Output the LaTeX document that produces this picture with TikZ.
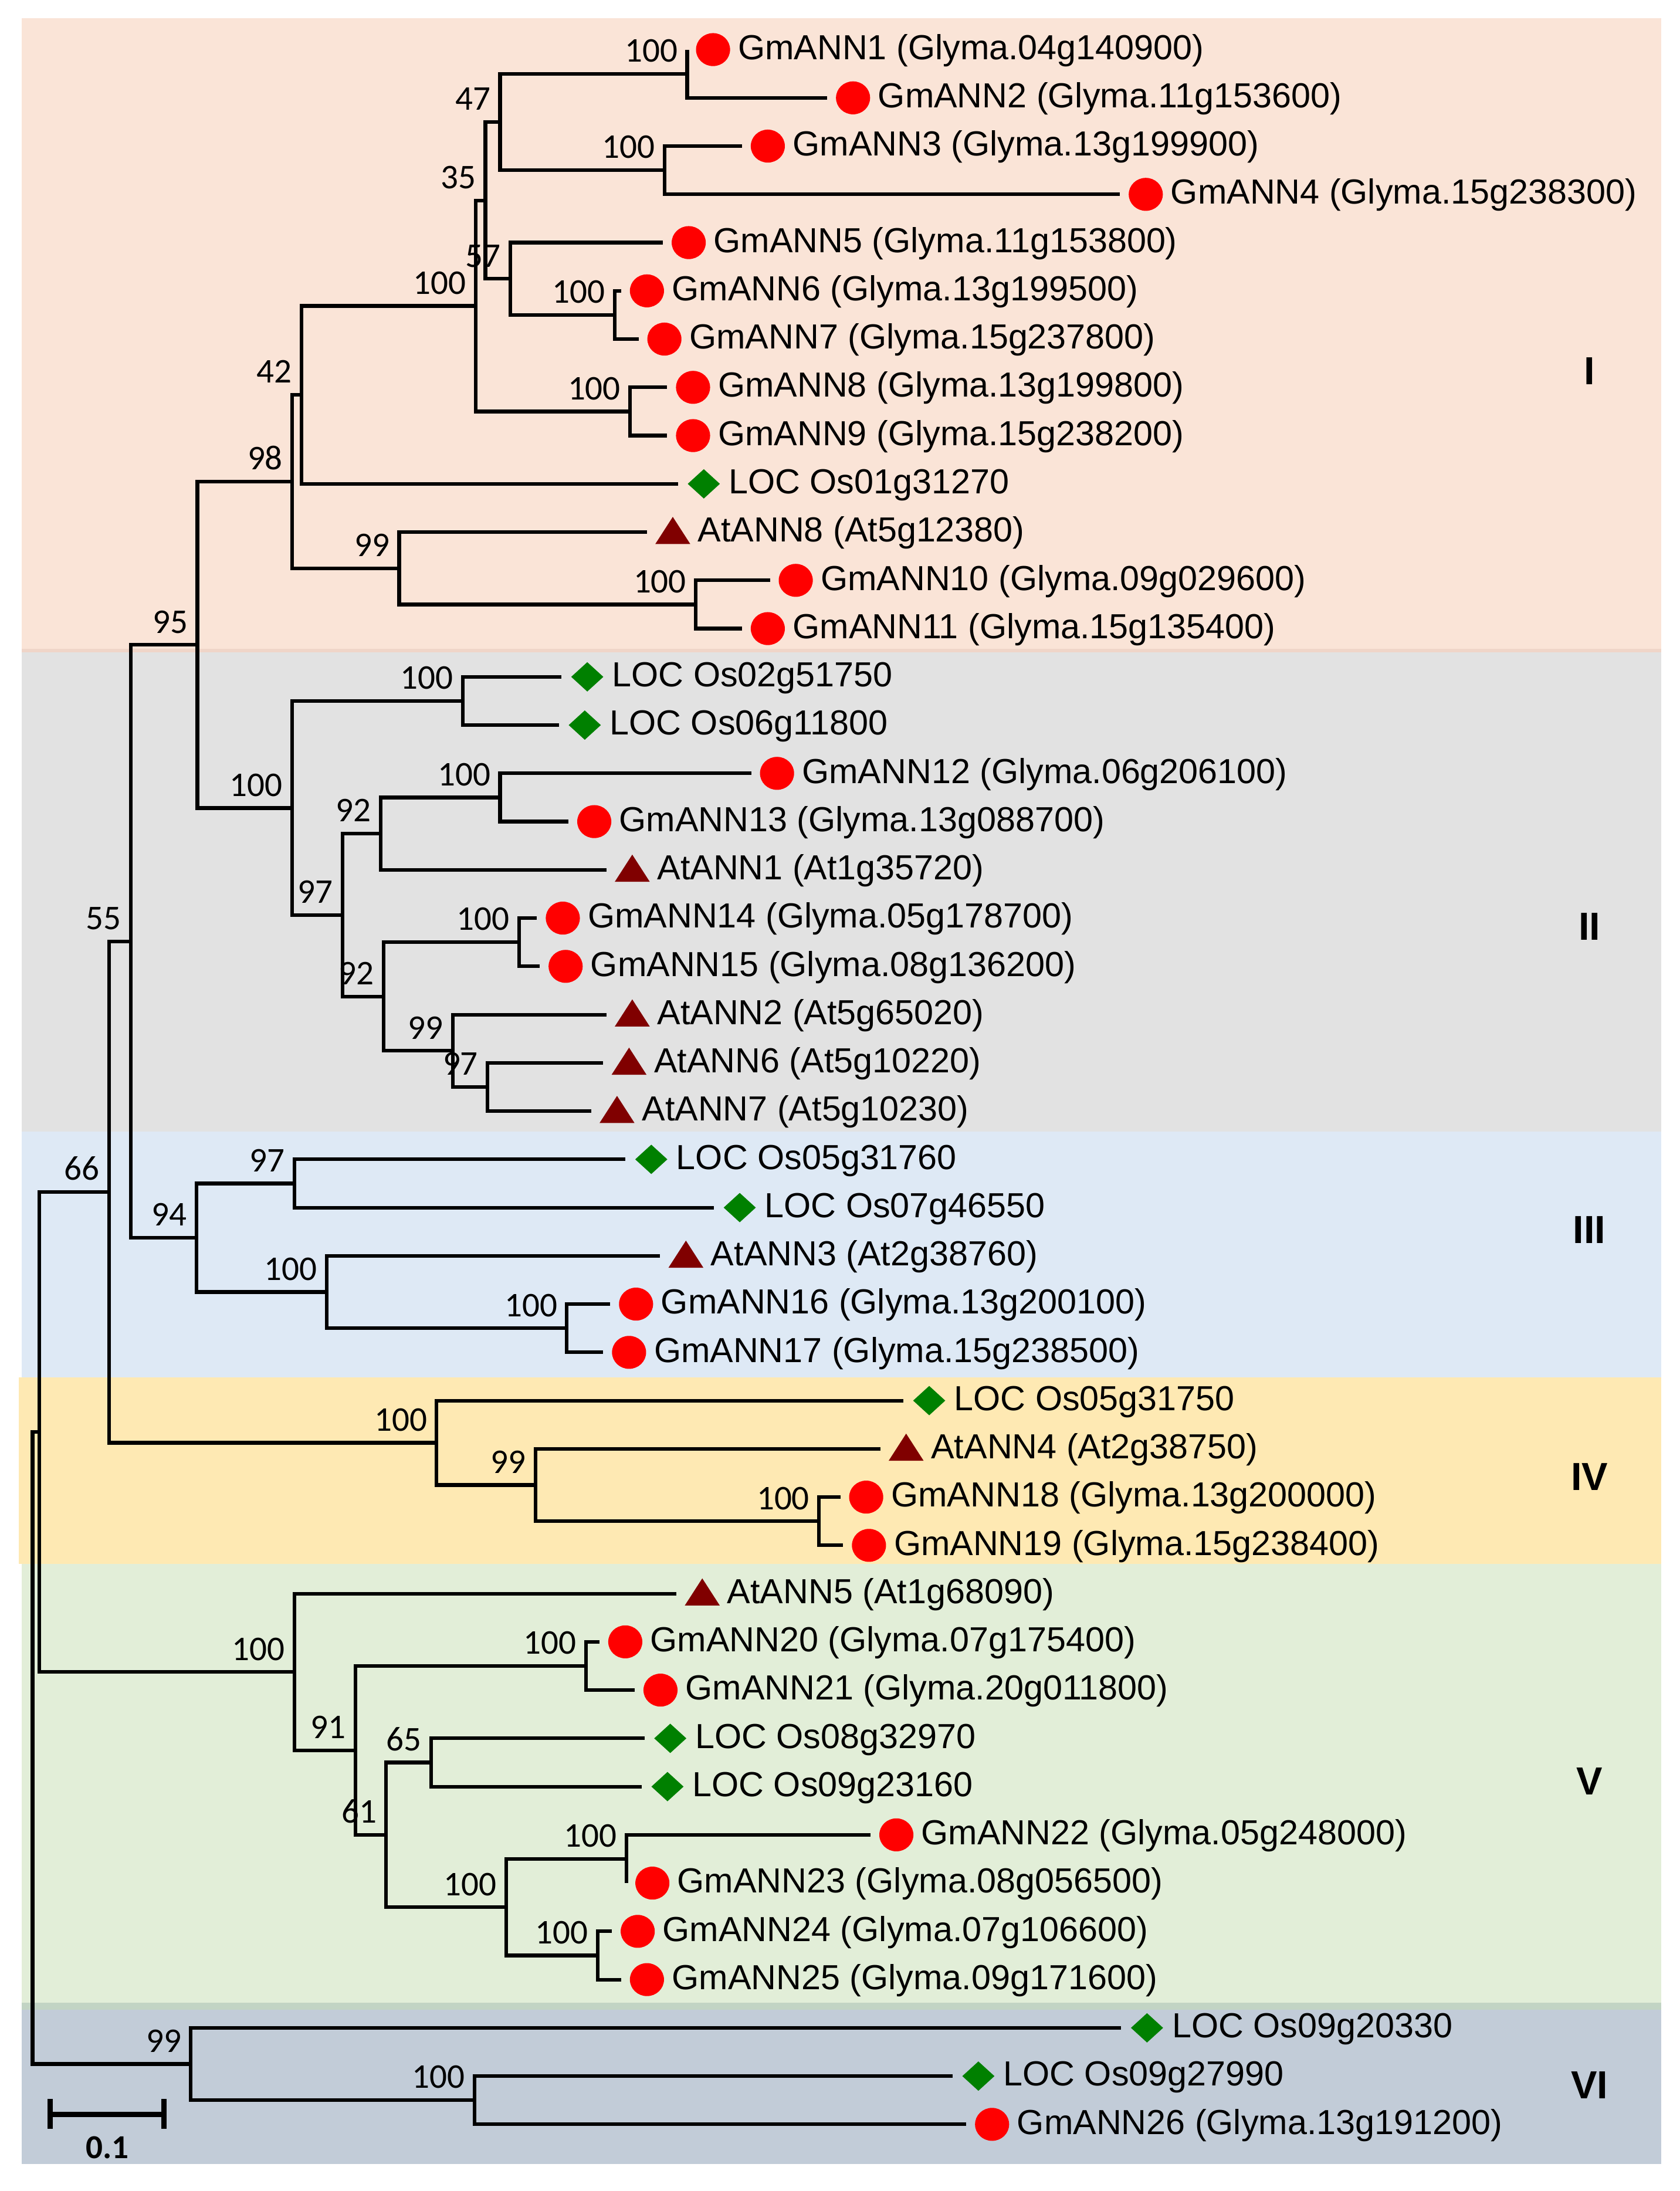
\documentclass[tikz,border=0pt]{standalone}
\usepackage{fontspec}
\setmainfont{Liberation Sans}
\newfontfamily\bsfont{Carlito}
\usetikzlibrary{calc}
\definecolor{cI}{HTML}{FAE4D7}
\definecolor{cIs}{HTML}{EFD5C8}
\definecolor{cII}{HTML}{E2E2E2}
\definecolor{cIII}{HTML}{DEE9F5}
\definecolor{cIV}{HTML}{FEE9B3}
\definecolor{cV}{HTML}{E2EED8}
\definecolor{cVs}{HTML}{C2D4C4}
\definecolor{cVI}{HTML}{C2CCD8}
\definecolor{gmred}{HTML}{FF0000}
\definecolor{osgreen}{HTML}{008000}
\definecolor{atred}{HTML}{800000}
\newcommand\symgm[1]{\fill[gmred] (#1) ellipse [x radius=12.2, y radius=11.8];}
\newcommand\symos[1]{\fill[osgreen] (#1) ++(-11.5,0) -- ++(11.5,-10.5) -- ++(11.5,10.5) -- ++(-11.5,10.5) -- cycle;}
\newcommand\symat[1]{\fill[atred] (#1) ++(-12.5,8.5) -- ++(25,0) -- ++(-12.5,-19.4) -- cycle;}
% #1 name, #2 y, #3 branch end x, #4 type, #5 text
\newcommand\leaf[5]{%
  \coordinate (#1) at (#3,#2);
  \coordinate (#1s) at (#3+18.5,#2);
  \csname sym#4\endcsname{#1s}
  \node[lab] (#1t) at (#3+36,#2+7) {#5};
}
\newcommand\inode[3]{\coordinate (#1) at (#2,#3);}
\newcommand\bsv[2]{\node[bs] (bs#1) at ($(#1)+(-6.5,-8.5)$) {#2};}
\newcommand\kids[3]{\draw[br] (#1) |- (#2); \draw[br] (#1) |- (#3);}
\begin{document}
\begin{tikzpicture}[x=0.5pt,y=-0.5pt,
  br/.style={line width=1.3pt, line join=miter},
  lab/.style={anchor=base west, inner sep=0pt, font=\fontsize{12.45pt}{14pt}\selectfont},
  bs/.style={anchor=base east, inner sep=0pt, font=\bsfont\fontsize{12.4pt}{14pt}\selectfont},
  cl/.style={anchor=center, inner sep=0pt, font=\bfseries\fontsize{14pt}{16pt}\selectfont}]
\fill[white] (0,0) rectangle (1202,1568);
\useasboundingbox (0,0) rectangle (1202,1568);
% clade bands
\fill[cI]   (15.5,13)    rectangle (1189,466.7);
\fill[cII]  (15.5,466.7) rectangle (1189,810);
\fill[cIs]  (15.5,464.3) rectangle (1189,466.7);
\fill[cIII] (15.5,810)   rectangle (1189,985.9);
\fill[cIV]  (13.4,985.9) rectangle (1189,1119.1);
\fill[cV]   (15.5,1119.1) rectangle (1189,1433.3);
\fill[cVI]  (15.5,1438.1) rectangle (1189,1548.6);
\fill[cVs]  (15.5,1433.3) rectangle (1189,1438.1);
% leaves
\leaf{l0}{35.5}{491.8}{gm}{GmANN1 (Glyma.04g140900)}
\leaf{l1}{70.03}{592}{gm}{GmANN2 (Glyma.11g153600)}
\leaf{l2}{104.56}{531}{gm}{GmANN3 (Glyma.13g199900)}
\leaf{l3}{139.09}{801.5}{gm}{GmANN4 (Glyma.15g238300)}
\leaf{l4}{173.62}{474.4}{gm}{GmANN5 (Glyma.11g153800)}
\leaf{l5}{208.15}{444.5}{gm}{GmANN6 (Glyma.13g199500)}
\leaf{l6}{242.68}{457}{gm}{GmANN7 (Glyma.15g237800)}
\leaf{l7}{277.21}{477.5}{gm}{GmANN8 (Glyma.13g199800)}
\leaf{l8}{311.74}{477.5}{gm}{GmANN9 (Glyma.15g238200)}
\leaf{l9}{346.27}{485.2}{os}{LOC Os01g31270}
\leaf{l10}{380.8}{463}{at}{AtANN8 (At5g12380)}
\leaf{l11}{415.33}{551}{gm}{GmANN10 (Glyma.09g029600)}
\leaf{l12}{449.86}{531}{gm}{GmANN11 (Glyma.15g135400)}
\leaf{l13}{484.39}{401.8}{os}{LOC Os02g51750}
\leaf{l14}{518.92}{400}{os}{LOC Os06g11800}
\leaf{l15}{553.45}{537.6}{gm}{GmANN12 (Glyma.06g206100)}
\leaf{l16}{587.98}{406.8}{gm}{GmANN13 (Glyma.13g088700)}
\leaf{l17}{622.51}{434}{at}{AtANN1 (At1g35720)}
\leaf{l18}{657.04}{384.3}{gm}{GmANN14 (Glyma.05g178700)}
\leaf{l19}{691.57}{386.3}{gm}{GmANN15 (Glyma.08g136200)}
\leaf{l20}{726.1}{434}{at}{AtANN2 (At5g65020)}
\leaf{l21}{760.63}{431.7}{at}{AtANN6 (At5g10220)}
\leaf{l22}{795.16}{423.1}{at}{AtANN7 (At5g10230)}
\leaf{l23}{829.69}{447.6}{os}{LOC Os05g31760}
\leaf{l24}{864.22}{510.9}{os}{LOC Os07g46550}
\leaf{l25}{898.75}{472.4}{at}{AtANN3 (At2g38760)}
\leaf{l26}{933.28}{436.7}{gm}{GmANN16 (Glyma.13g200100)}
\leaf{l27}{967.81}{431.7}{gm}{GmANN17 (Glyma.15g238500)}
\leaf{l28}{1002.34}{646.5}{os}{LOC Os05g31750}
\leaf{l29}{1036.87}{630}{at}{AtANN4 (At2g38750)}
\leaf{l30}{1071.4}{601.4}{gm}{GmANN18 (Glyma.13g200000)}
\leaf{l31}{1105.93}{603.4}{gm}{GmANN19 (Glyma.15g238400)}
\leaf{l32}{1140.46}{484.1}{at}{AtANN5 (At1g68090)}
\leaf{l33}{1174.99}{429}{gm}{GmANN20 (Glyma.07g175400)}
\leaf{l34}{1209.52}{454.2}{gm}{GmANN21 (Glyma.20g011800)}
\leaf{l35}{1244.05}{461.2}{os}{LOC Os08g32970}
\leaf{l36}{1278.58}{459.2}{os}{LOC Os09g23160}
\leaf{l37}{1313.11}{623}{gm}{GmANN22 (Glyma.05g248000)}
\leaf{l38}{1347.64}{448.4}{gm}{GmANN23 (Glyma.08g056500)}
\leaf{l39}{1382.17}{437.9}{gm}{GmANN24 (Glyma.07g106600)}
\leaf{l40}{1416.7}{444.5}{gm}{GmANN25 (Glyma.09g171600)}
\leaf{l41}{1451.23}{802.4}{os}{LOC Os09g20330}
\leaf{l42}{1485.76}{681.7}{os}{LOC Os09g27990}
\leaf{l43}{1520.29}{691.5}{gm}{GmANN26 (Glyma.13g191200)}
% internal nodes
\inode{a1}{491.8}{52.77}
\inode{a2}{475.5}{121.83}
\inode{a3}{357.9}{87.3}
\inode{a4}{439.8}{225.42}
\inode{a5}{365.3}{199.52}
\inode{a6}{347.4}{143.41}
\inode{a7}{451}{294.48}
\inode{a8}{340.4}{218.94}
\inode{a9}{215.8}{282.6}
\inode{a10}{498}{432.6}
\inode{a11}{285.7}{406.7}
\inode{a12}{209.2}{344.65}
\inode{b1}{331.1}{501.66}
\inode{b2}{357.9}{570.72}
\inode{b3}{272.5}{596.6}
\inode{b4}{371.5}{674.3}
\inode{b5}{349}{777.9}
\inode{b6}{324.1}{752.0}
\inode{b7}{274.5}{713.15}
\inode{b8}{245}{654.9}
\inode{b9}{208.9}{578.3}
\inode{c0}{141.3}{461.5}
\inode{c1}{210.8}{846.96}
\inode{c2}{405.7}{950.55}
\inode{c3}{233.7}{924.65}
\inode{c4}{140.5}{885.8}
\inode{c5}{93.6}{673.65}
\inode{d1}{586.2}{1088.67}
\inode{d2}{383.2}{1062.77}
\inode{d3}{312.5}{1032.55}
\inode{d4}{78}{853.1}
\inode{e1}{419.3}{1192.26}
\inode{e2}{308.6}{1261.3}
\inode{e3}{448.4}{1330.38}
\inode{e4}{427.8}{1399.44}
\inode{e5}{362.2}{1364.9}
\inode{e6}{276.4}{1313.1}
\inode{e7}{254.3}{1252.7}
\inode{e8}{210.8}{1196.6}
\inode{f0}{28}{1024.85}
\inode{g1}{339.7}{1503.0}
\inode{g2}{136.6}{1477.1}
\inode{rt}{23.3}{1251}
% branches
\kids{a1}{l0}{l1}
\kids{a2}{l2}{l3}
\kids{a3}{a1}{a2}
\kids{a4}{l5}{l6}
\kids{a5}{l4}{a4}
\kids{a6}{a3}{a5}
\kids{a7}{l7}{l8}
\kids{a8}{a6}{a7}
\kids{a9}{a8}{l9}
\kids{a10}{l11}{l12}
\kids{a11}{l10}{a10}
\kids{a12}{a9}{a11}
\kids{b1}{l13}{l14}
\kids{b2}{l15}{l16}
\kids{b3}{b2}{l17}
\kids{b4}{l18}{l19}
\kids{b5}{l21}{l22}
\kids{b6}{l20}{b5}
\kids{b7}{b4}{b6}
\kids{b8}{b3}{b7}
\kids{b9}{b1}{b8}
\kids{c0}{a12}{b9}
\kids{c1}{l23}{l24}
\kids{c2}{l26}{l27}
\kids{c3}{l25}{c2}
\kids{c4}{c1}{c3}
\kids{c5}{c0}{c4}
\kids{d1}{l30}{l31}
\kids{d2}{l29}{d1}
\kids{d3}{l28}{d2}
\kids{d4}{c5}{d3}
\kids{e1}{l33}{l34}
\kids{e2}{l35}{l36}
\kids{e3}{l37}{l38}
\kids{e4}{l39}{l40}
\kids{e5}{e3}{e4}
\kids{e6}{e2}{e5}
\kids{e7}{e1}{e6}
\kids{e8}{l32}{e7}
\kids{f0}{d4}{e8}
\kids{g1}{l42}{l43}
\kids{g2}{l41}{g1}
\kids{rt}{f0}{g2}
% bootstrap values
\bsv{a1}{100}\bsv{a2}{100}\bsv{a3}{47}\bsv{a4}{100}\bsv{a5}{57}\bsv{a6}{35}
\bsv{a7}{100}\bsv{a8}{100}\bsv{a9}{42}\bsv{a10}{100}\bsv{a11}{99}\bsv{a12}{98}
\bsv{b1}{100}\bsv{b2}{100}\bsv{b3}{92}\bsv{b4}{100}\bsv{b5}{97}\bsv{b6}{99}
\bsv{b7}{92}\bsv{b8}{97}\bsv{b9}{100}\bsv{c0}{95}
\bsv{c1}{97}\bsv{c2}{100}\bsv{c3}{100}\bsv{c4}{94}\bsv{c5}{55}
\bsv{d1}{100}\bsv{d2}{99}\bsv{d3}{100}\bsv{d4}{66}
\bsv{e1}{100}\bsv{e2}{65}\bsv{e3}{100}\bsv{e4}{100}\bsv{e5}{100}\bsv{e6}{61}
\bsv{e7}{91}\bsv{e8}{100}
\bsv{g1}{100}\bsv{g2}{99}
% clade labels
\node[cl] (kI)   at (1137.5,265.6)  {I};
\node[cl] (kII)  at (1137.5,663.3)  {II};
\node[cl] (kIII) at (1137.5,880)    {III};
\node[cl] (kIV)  at (1137.5,1057)   {IV};
\node[cl] (kV)   at (1137.5,1274.8) {V};
\node[cl] (kVI)  at (1137.5,1492.4) {VI};
% scale bar
\coordinate (sbL) at (35.7,1513.1);
\coordinate (sbR) at (117.2,1513.1);
\draw[line width=1.9pt] (sbL) -- (sbR);
\draw[line width=1.9pt] ($(sbL)+(0,-11)$) -- ($(sbL)+(0,10.5)$);
\draw[line width=1.9pt] ($(sbR)+(0,-11)$) -- ($(sbR)+(0,10.5)$);
\node[anchor=base, inner sep=0pt, font=\bsfont\bfseries\fontsize{12pt}{14pt}\selectfont] (sbt) at (76.9,1544.6) {0.1};
\end{tikzpicture}
\end{document}
